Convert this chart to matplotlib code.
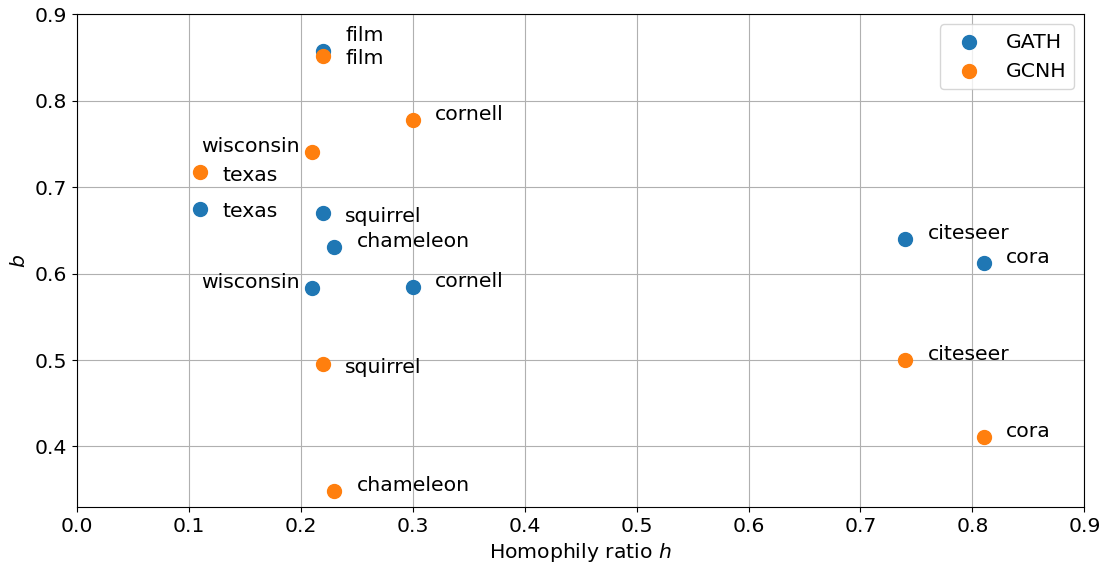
import matplotlib
matplotlib.use('Agg')
import matplotlib.pyplot as plt

# homophily ratio of each dataset
datasets = ['film', 'texas', 'squirrel', 'chameleon', 'wisconsin', 'cornell', 'citeseer', 'cora']
homophily = [0.22, 0.11, 0.22, 0.23, 0.21, 0.30, 0.74, 0.81]

# learned b per model
b_gath = [0.858, 0.675, 0.670, 0.631, 0.583, 0.585, 0.640, 0.612]
b_gcnh = [0.852, 0.717, 0.495, 0.349, 0.741, 0.778, 0.500, 0.411]

# small nudges so the names don't sit on top of each other
dy_gath = {'film': 0.011, 'texas': -0.01, 'squirrel': -0.01}
dy_gcnh = {'film': -0.01, 'texas': -0.01, 'squirrel': -0.01}

fs = 14.7
plt.rcParams['font.size'] = fs

fig, ax = plt.subplots(figsize=(11.1, 5.69), dpi=100)
fig.subplots_adjust(left=0.069, right=0.977, top=0.975, bottom=0.109)

ax.scatter(homophily, b_gath, s=100, label='GATH', zorder=3)
ax.scatter(homophily, b_gcnh, s=100, label='GCNH', zorder=3)

for vals, dys in [(b_gath, dy_gath), (b_gcnh, dy_gcnh)]:
    for name, h, b in zip(datasets, homophily, vals):
        if name == 'wisconsin':
            ax.text(h - 0.011, b, name, ha='right', fontsize=fs)
        else:
            ax.text(h + 0.02, b + dys.get(name, 0), name, fontsize=fs)

ax.set_xlim(0, 0.9)
ax.set_ylim(0.33, 0.9)
ax.set_xticks([0.0, 0.1, 0.2, 0.3, 0.4, 0.5, 0.6, 0.7, 0.8, 0.9])
ax.grid(True)
ax.set_axisbelow(True)
ax.set_xlabel('Homophily ratio $h$')
ax.set_ylabel('$b$')
ax.legend(loc='upper right')

plt.savefig('out.png')
